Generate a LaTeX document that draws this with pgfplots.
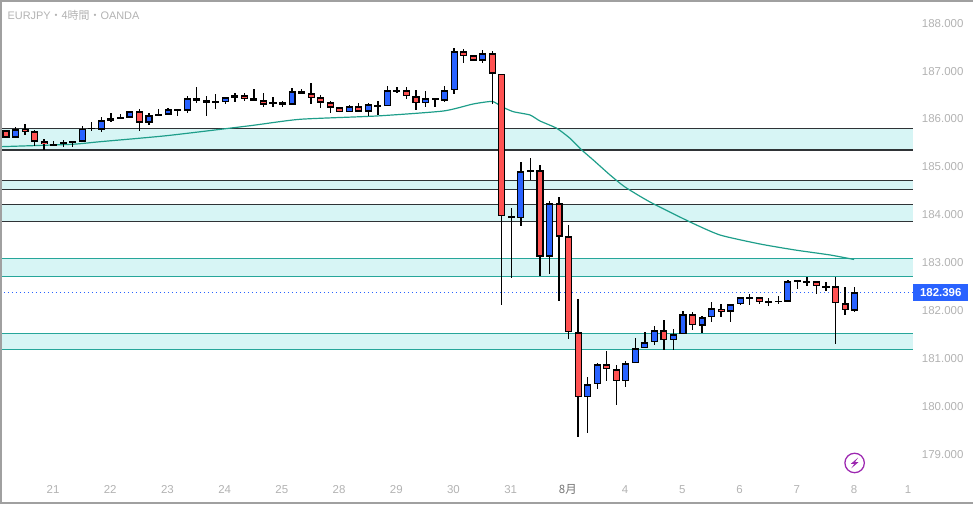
\documentclass[border=0pt]{standalone}
\usepackage{fontspec}
\setmainfont{Liberation Sans}
\newfontfamily\cjk{Noto Sans CJK JP}
\usepackage{pgfplots}
\usepackage{pgfplotstable}
\pgfplotsset{compat=1.18}
\definecolor{upblue}{HTML}{2962FF}
\definecolor{downred}{HTML}{FF5252}
\definecolor{bandfill}{HTML}{D7F5F5}
\definecolor{teal2}{HTML}{26A69A}
\definecolor{emacol}{HTML}{1E9E8A}
\definecolor{darkln}{HTML}{2F3336}
\definecolor{lab}{HTML}{B2B2B2}
\definecolor{frame}{HTML}{A0A0A0}
\definecolor{purp}{HTML}{9C27B0}
\pgfplotstableread{
i o h l c
1 185.624 185.841 185.624 185.799
5 185.471 185.555 185.457 185.484
6 185.486 185.576 185.430 185.528
7 185.534 185.549 185.430 185.549
8 185.540 185.862 185.540 185.812
9 185.812 185.952 185.770 185.826
10 185.791 186.056 185.743 185.987
11 185.979 186.140 185.952 186.029
12 186.035 186.112 186.008 186.056
13 186.041 186.175 186.041 186.175
15 185.937 186.133 185.895 186.092
16 186.098 186.223 186.071 186.112
17 186.104 186.244 186.104 186.217
18 186.196 186.217 186.077 186.217
19 186.188 186.495 186.140 186.446
22 186.363 186.536 186.223 186.384
23 186.375 186.467 186.334 186.467
24 186.459 186.557 186.369 186.509
28 186.321 186.467 186.271 186.363
30 186.313 186.662 186.313 186.593
36 186.154 186.300 186.154 186.279
38 186.167 186.342 186.077 186.321
40 186.279 186.703 186.279 186.614
41 186.603 186.676 186.557 186.614
44 186.342 186.599 186.271 186.446
46 186.396 186.697 186.375 186.614
47 186.614 187.491 186.530 187.428
50 187.232 187.455 187.190 187.386
54 183.941 185.110 183.786 184.922
55 184.931 185.194 184.734 184.943
57 183.139 184.296 182.784 184.254
61 180.203 180.621 179.464 180.475
62 180.475 180.913 180.383 180.892
65 180.537 180.961 180.425 180.913
66 180.913 181.435 180.913 181.226
67 181.226 181.567 181.226 181.352
68 181.352 181.692 181.302 181.602
70 181.394 181.623 181.197 181.519
71 181.519 181.999 181.519 181.936
73 181.703 181.901 181.552 181.874
74 181.874 182.189 181.782 182.058
76 181.991 182.145 181.782 182.145
77 182.145 182.291 182.124 182.291
78 182.279 182.360 182.124 182.291
80 182.187 182.270 182.116 182.208
81 182.202 182.319 182.145 182.214
82 182.200 182.653 182.200 182.625
83 182.619 182.632 182.465 182.632
84 182.613 182.709 182.534 182.625
86 182.509 182.605 182.429 182.521
89 182.012 182.500 181.991 182.396
}\upcandles
\pgfplotstableread{
i o h l c
0 185.778 185.778 185.624 185.624
2 185.805 185.910 185.680 185.749
3 185.757 185.785 185.457 185.540
4 185.549 185.590 185.367 185.486
14 186.175 186.223 185.770 185.937
20 186.446 186.682 186.355 186.396
21 186.405 186.495 186.077 186.355
25 186.509 186.557 186.390 186.442
26 186.446 186.634 186.396 186.396
27 186.405 186.557 186.271 186.313
29 186.363 186.384 186.271 186.313
31 186.593 186.634 186.543 186.543
32 186.551 186.760 186.334 186.459
33 186.467 186.509 186.250 186.355
34 186.363 186.390 186.146 186.250
35 186.259 186.259 186.154 186.154
37 186.279 186.342 186.167 186.167
39 186.313 186.390 186.098 186.271
42 186.614 186.676 186.438 186.488
43 186.488 186.614 186.202 186.342
45 186.446 186.446 186.265 186.405
48 187.428 187.476 187.190 187.336
49 187.344 187.344 187.232 187.232
51 187.386 187.428 186.334 186.960
52 186.960 186.960 182.131 183.983
53 183.983 184.150 182.701 183.941
56 184.943 185.048 182.736 183.139
58 184.254 184.379 182.220 183.557
59 183.565 183.801 181.427 181.561
60 181.561 182.256 179.381 180.203
63 180.892 181.170 180.550 180.788
64 180.788 180.878 180.043 180.537
69 181.602 181.817 181.197 181.394
72 181.936 181.984 181.609 181.707
75 182.053 182.151 181.886 181.991
79 182.291 182.304 182.145 182.187
85 182.625 182.638 182.360 182.521
87 182.521 182.709 181.323 182.166
88 182.166 182.500 181.928 182.020
}\downcandles
\begin{document}
\begin{tikzpicture}
\begin{axis}[
  name=a,
  scale only axis,
  width=729.75pt, height=378pt,
  xmin=-0.6293, xmax=101.416,
  ymin=177.975, ymax=188.499,
  axis line style={draw=none},
  major tick length=0pt,
  clip=true,
  axis on top=false,
  tick label style={font=\fontsize{8.6}{11}\selectfont, text=lab},
  xtick={4.93,10.93,16.93,22.93,28.93,34.93,40.93,46.93,52.93,58.93,64.93,70.93,76.93,82.93,88.93,94.6},
  xticklabels={21,22,23,24,25,28,29,30,31,{\cjk\color{black!55}8月},4,5,6,7,8,1},
  xticklabel style={anchor=center,yshift=10.9pt},
  ytick={179,180,181,182,183,184,185,186,187,188},
  yticklabels={179.000,180.000,181.000,182.000,183.000,184.000,185.000,186.000,187.000,188.000},
  yticklabel pos=right,
  yticklabel style={anchor=west,inner sep=0pt,xshift=-38.5pt,yshift=0.5pt},
]
% bands
\addplot[fill=bandfill,draw=none] coordinates {(-0.63,185.82)(95.07,185.82)(95.07,185.367)(-0.63,185.367)} -- cycle;
\addplot[fill=bandfill,draw=none] coordinates {(-0.63,184.734)(95.07,184.734)(95.07,184.546)(-0.63,184.546)} -- cycle;
\addplot[fill=bandfill,draw=none] coordinates {(-0.63,184.233)(95.07,184.233)(95.07,183.878)(-0.63,183.878)} -- cycle;
\addplot[fill=bandfill,draw=none] coordinates {(-0.63,183.106)(95.07,183.106)(95.07,182.73)(-0.63,182.73)} -- cycle;
\addplot[fill=bandfill,draw=none] coordinates {(-0.63,181.54)(95.07,181.54)(95.07,181.206)(-0.63,181.206)} -- cycle;
\addplot[darkln,line width=1pt] coordinates {(-0.63,185.82)(95.07,185.82)};
\addplot[darkln,line width=1pt] coordinates {(-0.63,185.367)(95.07,185.367)};
\addplot[darkln,line width=1pt] coordinates {(-0.63,184.734)(95.07,184.734)};
\addplot[darkln,line width=1pt] coordinates {(-0.63,184.546)(95.07,184.546)};
\addplot[darkln,line width=1pt] coordinates {(-0.63,184.233)(95.07,184.233)};
\addplot[darkln,line width=1pt] coordinates {(-0.63,183.878)(95.07,183.878)};
\addplot[teal2,line width=1pt] coordinates {(-0.63,183.106)(95.07,183.106)};
\addplot[teal2,line width=1pt] coordinates {(-0.63,182.73)(95.07,182.73)};
\addplot[teal2,line width=1pt] coordinates {(-0.63,181.54)(95.07,181.54)};
\addplot[teal2,line width=1pt] coordinates {(-0.63,181.206)(95.07,181.206)};
% last price line
\addplot[upblue,line width=0.75pt,dash pattern=on 0.9pt off 2.1pt] coordinates {(-0.63,182.396)(95.07,182.396)};
% moving average
\addplot[emacol,line width=0.9pt,smooth,tension=0.35] coordinates {
(-0.63,185.436)(6.89,185.486)(9.86,185.54)(16.85,185.666)(25.59,185.874)(30.83,186.008)
(38.88,186.077)(45.86,186.181)(48.98,186.327)(51,186.38)(51.99,186.271)(53.2,186.167)
(54.95,186.098)(56,185.973)(57.76,185.82)(59.15,185.611)(60.38,185.367)(61.59,185.158)
(63.35,184.845)(64.92,184.594)(67.54,184.281)(71.74,183.864)(74.88,183.592)(79.08,183.404)
(82.75,183.279)(86.42,183.175)(88.94,183.081)};
% candles: wicks, outlines, fills
\pgfplotsset{
  wick/.style={draw=none,mark=none,error bars/.cd,y dir=both,y explicit,error mark=none,
     error bar style={line width=1pt,black}},
  outl/.style={draw=none,mark=none,error bars/.cd,y dir=both,y explicit,error mark=none,
     error bar style={line width=5.3pt,black}},
  body/.style={draw=none,mark=none,error bars/.cd,y dir=both,y explicit,error mark=none,
     error bar style={line width=3.6pt,#1}},
}
\addplot[wick] table[x=i,y=c,y error plus expr=\thisrow{h}-\thisrow{c},y error minus expr=\thisrow{c}-\thisrow{l}] {\upcandles};
\addplot[wick] table[x=i,y=c,y error plus expr=\thisrow{h}-\thisrow{c},y error minus expr=\thisrow{c}-\thisrow{l}] {\downcandles};
\addplot[outl] table[x=i,y expr=(\thisrow{o}+\thisrow{c})/2,y error expr={max(abs(\thisrow{o}-\thisrow{c})/2,0.017)}] {\upcandles};
\addplot[outl] table[x=i,y expr=(\thisrow{o}+\thisrow{c})/2,y error expr={max(abs(\thisrow{o}-\thisrow{c})/2,0.017)}] {\downcandles};
\addplot[body=upblue] table[x=i,y expr=(\thisrow{o}+\thisrow{c})/2,y error expr={max(abs(\thisrow{o}-\thisrow{c})/2-0.027,0)}] {\upcandles};
\addplot[body=downred] table[x=i,y expr=(\thisrow{o}+\thisrow{c})/2,y error expr={max(abs(\thisrow{o}-\thisrow{c})/2-0.027,0)}] {\downcandles};
% price tag
\node[anchor=west,fill=upblue,text=white,inner sep=0pt,minimum width=41.25pt,minimum height=12.75pt,
  font=\fontsize{8.6}{11}\selectfont\bfseries] at (axis cs:95.12,182.396) {182.396};
% title
\node[anchor=west,text=lab,inner sep=0pt,font=\fontsize{8.2}{11}\selectfont] at (rel axis cs:0.0075,0.9705) {EURJPY{\cjk・4時間・}OANDA};
% icon
\draw[purp,line width=0.95pt] (axis cs:89,178.832) circle[radius=7.3pt];
\fill[purp] (axis cs:89,178.832) ++(2.6pt,4pt) -- ++(-5.4pt,-4.6pt) -- ++(2.6pt,0pt) -- ++(-2.3pt,-3.4pt) -- ++(5.4pt,4.6pt) -- ++(-2.6pt,0pt) -- cycle;
% frame
\draw[frame,line width=1.6pt] (rel axis cs:0,0.002) -- (rel axis cs:1,0.002);
\draw[frame,line width=1.6pt] (rel axis cs:0,0.998) -- (rel axis cs:1,0.998);
\draw[frame,line width=1.6pt] (rel axis cs:0.001,0) -- (rel axis cs:0.001,1);
\end{axis}
\pgfresetboundingbox
\path (a.south west) rectangle (a.north east);
\end{tikzpicture}
\end{document}
